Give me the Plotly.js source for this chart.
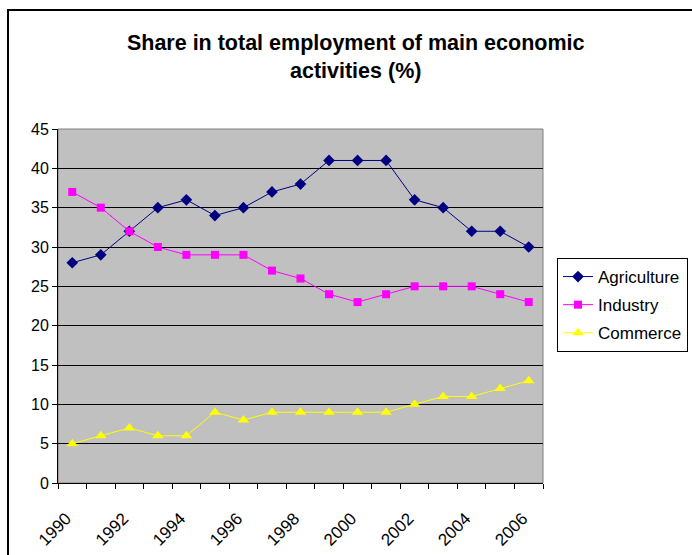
<!DOCTYPE html>
<html>
<head>
<meta charset="utf-8">
<script src="https://cdn.plot.ly/plotly-3.0.1.min.js"></script>
<style>
html,body{margin:0;padding:0;background:#fff;}
#wrap{position:relative;width:692px;height:555px;overflow:hidden;}
#chart{position:absolute;left:0;top:0;width:692px;height:555px;}
#frame{position:absolute;left:7px;top:9px;width:720px;height:600px;border-left:2px solid #000;border-top:2px solid #000;pointer-events:none;}
</style>
</head>
<body>
<div id="wrap"><div id="chart"></div><div id="frame"></div></div>
<script>
const years = [1990,1991,1992,1993,1994,1995,1996,1997,1998,1999,2000,2001,2002,2003,2004,2005,2006];
const agriculture = [28,29,32,35,36,34,35,37,38,41,41,41,36,35,32,32,30];
const industry = [37,35,32,30,29,29,29,27,26,24,23,24,25,25,25,24,23];
const commerce = [5,6,7,6,6,9,8,9,9,9,9,9,10,11,11,12,13];
const tickYears = [1990,1992,1994,1996,1998,2000,2002,2004,2006];
const tickLabels = ["1990","1992","1994","1996","1998","2000","2002","2004","2006"];
const seriesNames = ["Agriculture","Industry","Commerce"];

const FONT = "Liberation Sans, Arial, sans-serif";
const traces = [
  {x: years, y: agriculture, name: seriesNames[0], legendgroup: "a", type: "scatter", mode: "lines+markers",
   line: {color: "#000080", width: 1}, marker: {symbol: "diamond", size: 9, color: "#000080"}},
  {x: years, y: industry, name: seriesNames[1], legendgroup: "b", type: "scatter", mode: "lines+markers",
   line: {color: "#FF00FF", width: 1}, marker: {symbol: "square", size: 8, color: "#FF00FF"}},
  {x: years, y: commerce, name: seriesNames[2], legendgroup: "c", type: "scatter", mode: "lines+markers",
   line: {color: "#FFFF00", width: 1}, marker: {symbol: "triangle-up", size: 10, color: "#FFFF00"}}
];

const layout = {
  width: 692, height: 555,
  paper_bgcolor: "#ffffff", plot_bgcolor: "#C0C0C0",
  margin: {l: 58, r: 149, t: 129, b: 72, autoexpand: false},
  font: {family: FONT, color: "#000", size: 15},
  title: {text: "<b>Share in total employment of main economic<br>activities (%)</b>",
          font: {family: FONT, size: 21.5, color: "#000"},
          xref: "container", x: 0.514, xanchor: "center",
          yref: "container", y: 1 - 50/555, yanchor: "top"},
  showlegend: true,
  legend: {x: (557-58)/485, xanchor: "left", y: (483-258)/354, yanchor: "top",
           bgcolor: "#fff", bordercolor: "#000", borderwidth: 1,
           font: {family: FONT, size: 17, color: "#000"}, tracegroupgap: 3},
  xaxis: {range: [1989.5, 2006.5], tickmode: "array", tickvals: tickYears, ticktext: tickLabels,
          tickangle: -45, ticks: "", showgrid: false, zeroline: false,
          showline: true, linecolor: "#000", linewidth: 1,
          ticklabelshift: -6, ticklabelstandoff: 18,
          tickfont: {family: FONT, size: 17, color: "#000"},
          minor: {tick0: 1989.5, dtick: 1, ticks: "outside", ticklen: 5, tickcolor: "#000", showgrid: false}},
  yaxis: {range: [0, 45], dtick: 5, tick0: 0, ticks: "outside", ticklen: 5, tickcolor: "#000",
          showgrid: true, gridcolor: "#000", gridwidth: 1, zeroline: false,
          showline: true, linecolor: "#000", linewidth: 1,
          tickfont: {family: FONT, size: 16, color: "#000"}},
  shapes: [{type: "rect", xref: "paper", yref: "paper", x0: 0, x1: 1, y0: 0, y1: 1,
            line: {color: "#808080", width: 1}, layer: "below"}]
};
Plotly.newPlot("chart", traces, layout, {displayModeBar: false, staticPlot: true});
</script>
</body>
</html>
